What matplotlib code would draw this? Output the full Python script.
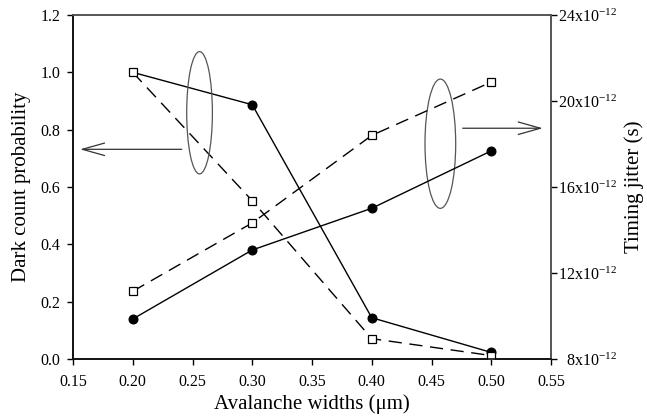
import matplotlib
matplotlib.use('Agg')
import matplotlib.pyplot as plt
from matplotlib.patches import Ellipse
from matplotlib.ticker import FuncFormatter

plt.rcParams['font.family'] = ['Liberation Serif', 'DejaVu Serif']
plt.rcParams['mathtext.fontset'] = 'custom'
plt.rcParams['mathtext.rm'] = 'Liberation Serif'
plt.rcParams['mathtext.it'] = 'Liberation Serif:italic'

# ---- data ----
widths = [0.20, 0.30, 0.40, 0.50]
dark_circle = [1.0, 0.887, 0.144, 0.023]
dark_square = [1.0, 0.552, 0.071, 0.012]
jitter_circle = [9.86e-12, 13.07e-12, 15.01e-12, 17.68e-12]
jitter_square = [11.15e-12, 14.33e-12, 18.40e-12, 20.88e-12]

x_ticks = [0.15, 0.20, 0.25, 0.30, 0.35, 0.40, 0.45, 0.50, 0.55]
left_ticks = [0.0, 0.2, 0.4, 0.6, 0.8, 1.0, 1.2]
right_ticks = [8e-12, 12e-12, 16e-12, 20e-12, 24e-12]

x_label = 'Avalanche widths (\u03bcm)'
left_label = 'Dark count probability'
right_label = 'Timing jitter (s)'

# ---- figure ----
W, H = 647, 419
fig = plt.figure(figsize=(W / 100, H / 100), dpi=100)
ax = fig.add_axes([73 / W, 60 / H, 478 / W, 344 / H])
ax2 = ax.twinx()

lw = 1.0
dash = (9.5, 5.5)
circ = dict(marker='o', markersize=6.2, markerfacecolor='black', markeredgecolor='black')
sq = dict(marker='s', markersize=5.2, markerfacecolor='white', markeredgecolor='black',
          markeredgewidth=0.9)

# dark count (left axis)
ax.plot(widths, dark_circle, color='black', lw=lw, markevery=[1, 2, 3], zorder=3, **circ)
ax.plot(widths, dark_square, color='black', lw=lw, dashes=dash, zorder=4, **sq)

# jitter (right axis)
ax2.plot(widths, jitter_circle, color='black', lw=lw, zorder=3, **circ)
ax2.plot(widths, jitter_square, color='black', lw=lw, dashes=dash, zorder=4, **sq)

ax.set_xlim(x_ticks[0], x_ticks[-1])
ax.set_ylim(left_ticks[0], left_ticks[-1])
ax2.set_ylim(right_ticks[0], right_ticks[-1])
ax.set_xticks(x_ticks)
ax.set_yticks(left_ticks)
ax2.set_yticks(right_ticks)
ax.xaxis.set_major_formatter(FuncFormatter(lambda v, p: f'{v:.2f}'))
ax.yaxis.set_major_formatter(FuncFormatter(lambda v, p: f'{v:.1f}'))
ax2.yaxis.set_major_formatter(
    FuncFormatter(lambda v, p: r'$\mathregular{%dx10^{-12}}$' % round(v / 1e-12)))

for a in (ax, ax2):
    a.tick_params(direction='out', length=4, width=1.0, labelsize=11.5, colors='black')
ax.tick_params(axis='x', pad=7)
ax.tick_params(axis='y', pad=5)
ax2.tick_params(axis='y', pad=43.5)
for t in ax2.get_yticklabels():
    t.set_horizontalalignment('right')

for a in (ax, ax2):
    a.spines['left'].set_color('#111111')
    a.spines['bottom'].set_color('#111111')
    a.spines['top'].set_color('#555555')
    a.spines['right'].set_color('#555555')
    for s in a.spines.values():
        s.set_linewidth(1.2)

ax.set_xlabel(x_label, fontsize=15, labelpad=3)
ax.set_ylabel(left_label, fontsize=15, labelpad=7)
ax2.set_ylabel(right_label, fontsize=15, labelpad=5)

# annotations: ellipses and arrows
ax.add_patch(Ellipse((0.2559, 0.859), 0.0215, 0.4266, fill=False, ec='#555555', lw=0.9, zorder=5))
ax.add_patch(Ellipse((0.4574, 0.751), 0.0257, 0.451, fill=False, ec='#555555', lw=0.9, zorder=5))
arrow = dict(arrowstyle='->,head_length=1.6,head_width=0.45', lw=0.9, color='#333333',
             shrinkA=0, shrinkB=0, mutation_scale=10)
ax.annotate('', xy=(0.1559, 0.7315), xytext=(0.241, 0.7315), arrowprops=arrow)
ax.annotate('', xy=(0.5431, 0.805), xytext=(0.4761, 0.805), arrowprops=arrow)

fig.savefig('out.png', dpi=100)
